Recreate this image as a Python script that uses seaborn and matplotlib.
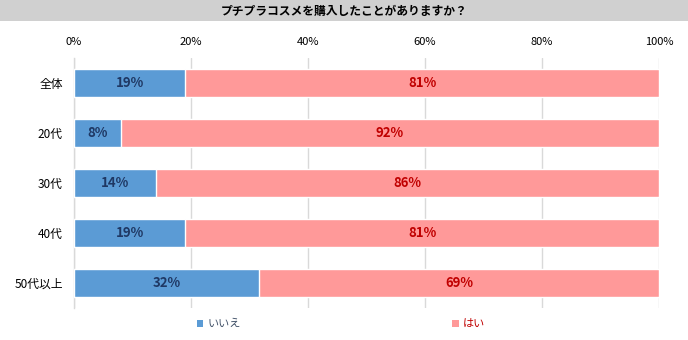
import matplotlib
matplotlib.use("Agg")
import matplotlib.pyplot as plt
from matplotlib.patches import Patch, Rectangle
import seaborn as sns
import pandas as pd
import numpy as np

categories = ["全体", "20代", "30代", "40代", "50代以上"]
no_vals = [19, 8, 14, 19, 32]
yes_vals = [81, 92, 86, 81, 69]
series_names = ["いいえ", "はい"]
xtick_labels = ["0%", "20%", "40%", "60%", "80%", "100%"]
title = "プチプラコスメを購入したことがありますか？"

sns.set_theme(style="white")
plt.rcParams['font.family'] = ['Noto Sans CJK JP', 'DejaVu Sans']

blue = "#5b9bd5"
pink = "#ff9999"

no_arr = np.array(no_vals, float)
yes_arr = np.array(yes_vals, float)
tot = no_arr + yes_arr
no_pct = no_arr / tot * 100
df = pd.DataFrame({"cat": categories, "no": no_pct, "total": np.full(len(categories), 100.0)})

fig = plt.figure(figsize=(6.88, 3.40), dpi=100)
fig.patches.append(Rectangle((0, 1 - 21 / 340), 1, 21 / 340, transform=fig.transFigure,
                             facecolor="#d0d0d0", edgecolor="none", zorder=0))
fig.text(0.5, 1 - 11 / 340, title, ha="center", va="center", fontsize=8.5, fontweight="bold", color="#000000")

ax = fig.add_axes([74 / 688, 1 - 308 / 340, (659 - 74) / 688, 250 / 340])
sns.barplot(data=df, y="cat", x="total", color=pink, width=0.56, saturation=1, ax=ax, orient="h", zorder=3)
sns.barplot(data=df, y="cat", x="no", color=blue, width=0.56, saturation=1, ax=ax, orient="h", zorder=3)

ax.set_xlim(0, 100)
ax.set_ylim(len(categories) - 0.5, -0.5)
ax.set_xticks(np.arange(0, 101, 20))
ax.set_xticklabels(xtick_labels, fontsize=8, color="#000000")
ax.xaxis.tick_top()
ax.tick_params(axis="x", length=0, pad=8)
ax.tick_params(axis="y", length=0, pad=8, labelsize=8.5, labelcolor="#000000")
ax.set_xlabel("")
ax.set_ylabel("")
ax.grid(axis="x", color="#d9d9d9", linewidth=1, zorder=0)
ax.set_axisbelow(True)
for s in ["top", "right", "bottom"]:
    ax.spines[s].set_visible(False)
ax.spines["left"].set_color("#d9d9d9")
ax.spines["left"].set_linewidth(1)

for i in range(len(categories)):
    ax.text(no_pct[i] / 2, i, f"{no_vals[i]}%", ha="center", va="center", fontsize=9.5,
            fontweight="bold", color="#1f3864", zorder=5)
    ax.text(no_pct[i] + (100 - no_pct[i]) / 2, i, f"{yes_vals[i]}%", ha="center", va="center",
            fontsize=9.5, fontweight="bold", color="#c00000", zorder=5)

handles = [Patch(facecolor=blue, edgecolor="none"), Patch(facecolor=pink, edgecolor="none")]
leg = fig.legend(handles, series_names, loc="center", bbox_to_anchor=(341 / 688, 1 - 324 / 340), ncol=2,
                 frameon=False, fontsize=8, handlelength=0.6, handleheight=0.6, handletextpad=0.4,
                 columnspacing=19)
for t, c in zip(leg.get_texts(), ["#44546a", "#c00000"]):
    t.set_color(c)

fig.savefig("out.png", dpi=100)
